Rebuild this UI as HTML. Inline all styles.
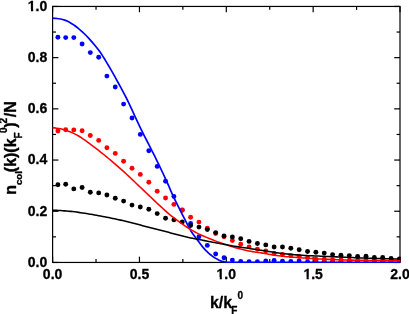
<!DOCTYPE html>
<html><head><meta charset="utf-8"><title>plot</title>
<style>
html,body{margin:0;padding:0;background:#fff;}
body{width:409px;height:314px;overflow:hidden;}
svg{display:block;}
text{font-family:"Liberation Sans",sans-serif;font-weight:bold;fill:#000;}
</style></head>
<body>
<svg width="409" height="314" viewBox="0 0 409 314">
<rect x="0" y="0" width="409" height="314" fill="#fff"/>
<defs><filter id="gs" x="0" y="0" width="409" height="314" filterUnits="userSpaceOnUse"><feColorMatrix type="saturate" values="0"/></filter><clipPath id="c"><rect x="52.0" y="5.8500000000000005" width="348.59999999999997" height="257.2"/></clipPath></defs>
<g stroke="#000" stroke-width="1.2" fill="none">
<rect x="52.6" y="6.45" width="347.4" height="256.0"/>
</g>
<g stroke="#000" stroke-width="1.2" fill="none">
<line x1="52.60" y1="262.45" x2="52.60" y2="256.65"/>
<line x1="52.60" y1="6.45" x2="52.60" y2="12.25"/>
<line x1="96.03" y1="262.45" x2="96.03" y2="259.05"/>
<line x1="96.03" y1="6.45" x2="96.03" y2="9.85"/>
<line x1="139.45" y1="262.45" x2="139.45" y2="256.65"/>
<line x1="139.45" y1="6.45" x2="139.45" y2="12.25"/>
<line x1="182.87" y1="262.45" x2="182.87" y2="259.05"/>
<line x1="182.87" y1="6.45" x2="182.87" y2="9.85"/>
<line x1="226.30" y1="262.45" x2="226.30" y2="256.65"/>
<line x1="226.30" y1="6.45" x2="226.30" y2="12.25"/>
<line x1="269.73" y1="262.45" x2="269.73" y2="259.05"/>
<line x1="269.73" y1="6.45" x2="269.73" y2="9.85"/>
<line x1="313.15" y1="262.45" x2="313.15" y2="256.65"/>
<line x1="313.15" y1="6.45" x2="313.15" y2="12.25"/>
<line x1="356.57" y1="262.45" x2="356.57" y2="259.05"/>
<line x1="356.57" y1="6.45" x2="356.57" y2="9.85"/>
<line x1="400.00" y1="262.45" x2="400.00" y2="256.65"/>
<line x1="400.00" y1="6.45" x2="400.00" y2="12.25"/>
<line x1="52.6" y1="262.45" x2="58.4" y2="262.45"/>
<line x1="400.0" y1="262.45" x2="394.2" y2="262.45"/>
<line x1="52.6" y1="236.85" x2="56.0" y2="236.85"/>
<line x1="400.0" y1="236.85" x2="396.6" y2="236.85"/>
<line x1="52.6" y1="211.25" x2="58.4" y2="211.25"/>
<line x1="400.0" y1="211.25" x2="394.2" y2="211.25"/>
<line x1="52.6" y1="185.65" x2="56.0" y2="185.65"/>
<line x1="400.0" y1="185.65" x2="396.6" y2="185.65"/>
<line x1="52.6" y1="160.05" x2="58.4" y2="160.05"/>
<line x1="400.0" y1="160.05" x2="394.2" y2="160.05"/>
<line x1="52.6" y1="134.45" x2="56.0" y2="134.45"/>
<line x1="400.0" y1="134.45" x2="396.6" y2="134.45"/>
<line x1="52.6" y1="108.85" x2="58.4" y2="108.85"/>
<line x1="400.0" y1="108.85" x2="394.2" y2="108.85"/>
<line x1="52.6" y1="83.25" x2="56.0" y2="83.25"/>
<line x1="400.0" y1="83.25" x2="396.6" y2="83.25"/>
<line x1="52.6" y1="57.65" x2="58.4" y2="57.65"/>
<line x1="400.0" y1="57.65" x2="394.2" y2="57.65"/>
<line x1="52.6" y1="32.05" x2="56.0" y2="32.05"/>
<line x1="400.0" y1="32.05" x2="396.6" y2="32.05"/>
<line x1="52.6" y1="6.45" x2="58.4" y2="6.45"/>
<line x1="400.0" y1="6.45" x2="394.2" y2="6.45"/>
</g>
<g clip-path="url(#c)">
<circle cx="57.90" cy="37.3" r="2.45" fill="#0000ff"/>
<circle cx="65.70" cy="37.6" r="2.45" fill="#0000ff"/>
<circle cx="73.80" cy="37.6" r="2.45" fill="#0000ff"/>
<circle cx="82.10" cy="44.0" r="2.45" fill="#0000ff"/>
<circle cx="90.30" cy="52.6" r="2.45" fill="#0000ff"/>
<circle cx="98.70" cy="57.3" r="2.45" fill="#0000ff"/>
<circle cx="106.90" cy="76.1" r="2.45" fill="#0000ff"/>
<circle cx="115.25" cy="87.0" r="2.45" fill="#0000ff"/>
<circle cx="123.60" cy="104.1" r="2.45" fill="#0000ff"/>
<circle cx="132.00" cy="118.0" r="2.45" fill="#0000ff"/>
<circle cx="140.30" cy="134.4" r="2.45" fill="#0000ff"/>
<circle cx="148.80" cy="150.8" r="2.45" fill="#0000ff"/>
<circle cx="157.20" cy="166.4" r="2.45" fill="#0000ff"/>
<circle cx="165.55" cy="181.2" r="2.45" fill="#0000ff"/>
<circle cx="173.90" cy="196.4" r="2.45" fill="#0000ff"/>
<circle cx="182.26" cy="210.0" r="2.45" fill="#0000ff"/>
<circle cx="190.61" cy="223.5" r="2.45" fill="#0000ff"/>
<circle cx="198.96" cy="236.7" r="2.45" fill="#0000ff"/>
<circle cx="207.31" cy="245.4" r="2.45" fill="#0000ff"/>
<circle cx="215.66" cy="254.0" r="2.45" fill="#0000ff"/>
<circle cx="224.02" cy="257.7" r="2.45" fill="#0000ff"/>
<circle cx="232.37" cy="260.1" r="2.45" fill="#0000ff"/>
<circle cx="240.72" cy="261.4" r="2.45" fill="#0000ff"/>
<circle cx="249.07" cy="261.6" r="2.45" fill="#0000ff"/>
<circle cx="257.42" cy="261.7" r="2.45" fill="#0000ff"/>
<circle cx="265.78" cy="261.0" r="2.45" fill="#0000ff"/>
<circle cx="274.13" cy="260.4" r="2.45" fill="#0000ff"/>
<circle cx="282.48" cy="261.1" r="2.45" fill="#0000ff"/>
<circle cx="290.83" cy="261.5" r="2.45" fill="#0000ff"/>
<circle cx="299.18" cy="260.9" r="2.45" fill="#0000ff"/>
<circle cx="307.54" cy="261.7" r="2.45" fill="#0000ff"/>
<circle cx="315.89" cy="260.7" r="2.45" fill="#0000ff"/>
<circle cx="324.24" cy="261.2" r="2.45" fill="#0000ff"/>
<circle cx="332.59" cy="261.7" r="2.45" fill="#0000ff"/>
<circle cx="340.94" cy="261.7" r="2.45" fill="#0000ff"/>
<circle cx="349.30" cy="261.7" r="2.45" fill="#0000ff"/>
<circle cx="357.65" cy="261.7" r="2.45" fill="#0000ff"/>
<circle cx="366.00" cy="261.7" r="2.45" fill="#0000ff"/>
<circle cx="374.35" cy="261.7" r="2.45" fill="#0000ff"/>
<circle cx="382.70" cy="261.7" r="2.45" fill="#0000ff"/>
<circle cx="391.06" cy="261.7" r="2.45" fill="#0000ff"/>
<circle cx="399.41" cy="261.7" r="2.45" fill="#0000ff"/>
<circle cx="57.90" cy="131.0" r="2.45" fill="#ff0000"/>
<circle cx="65.70" cy="129.7" r="2.45" fill="#ff0000"/>
<circle cx="73.80" cy="129.9" r="2.45" fill="#ff0000"/>
<circle cx="82.10" cy="130.7" r="2.45" fill="#ff0000"/>
<circle cx="90.30" cy="135.5" r="2.45" fill="#ff0000"/>
<circle cx="98.70" cy="140.4" r="2.45" fill="#ff0000"/>
<circle cx="106.90" cy="147.8" r="2.45" fill="#ff0000"/>
<circle cx="115.25" cy="153.4" r="2.45" fill="#ff0000"/>
<circle cx="123.60" cy="161.2" r="2.45" fill="#ff0000"/>
<circle cx="132.00" cy="168.2" r="2.45" fill="#ff0000"/>
<circle cx="140.30" cy="174.4" r="2.45" fill="#ff0000"/>
<circle cx="148.80" cy="182.2" r="2.45" fill="#ff0000"/>
<circle cx="157.20" cy="191.3" r="2.45" fill="#ff0000"/>
<circle cx="165.55" cy="198.0" r="2.45" fill="#ff0000"/>
<circle cx="173.90" cy="204.4" r="2.45" fill="#ff0000"/>
<circle cx="182.26" cy="210.3" r="2.45" fill="#ff0000"/>
<circle cx="190.61" cy="217.2" r="2.45" fill="#ff0000"/>
<circle cx="198.96" cy="222.1" r="2.45" fill="#ff0000"/>
<circle cx="207.31" cy="228.2" r="2.45" fill="#ff0000"/>
<circle cx="215.66" cy="233.5" r="2.45" fill="#ff0000"/>
<circle cx="224.02" cy="236.7" r="2.45" fill="#ff0000"/>
<circle cx="232.37" cy="240.5" r="2.45" fill="#ff0000"/>
<circle cx="240.72" cy="244.3" r="2.45" fill="#ff0000"/>
<circle cx="249.07" cy="246.9" r="2.45" fill="#ff0000"/>
<circle cx="257.42" cy="249.2" r="2.45" fill="#ff0000"/>
<circle cx="265.78" cy="251.0" r="2.45" fill="#ff0000"/>
<circle cx="274.13" cy="253.4" r="2.45" fill="#ff0000"/>
<circle cx="282.48" cy="254.5" r="2.45" fill="#ff0000"/>
<circle cx="290.83" cy="255.8" r="2.45" fill="#ff0000"/>
<circle cx="299.18" cy="256.3" r="2.45" fill="#ff0000"/>
<circle cx="307.54" cy="257.8" r="2.45" fill="#ff0000"/>
<circle cx="315.89" cy="259.2" r="2.45" fill="#ff0000"/>
<circle cx="324.24" cy="259.2" r="2.45" fill="#ff0000"/>
<circle cx="332.59" cy="259.8" r="2.45" fill="#ff0000"/>
<circle cx="340.94" cy="259.9" r="2.45" fill="#ff0000"/>
<circle cx="349.30" cy="260.2" r="2.45" fill="#ff0000"/>
<circle cx="357.65" cy="260.2" r="2.45" fill="#ff0000"/>
<circle cx="366.00" cy="260.3" r="2.45" fill="#ff0000"/>
<circle cx="374.35" cy="260.3" r="2.45" fill="#ff0000"/>
<circle cx="382.70" cy="260.4" r="2.45" fill="#ff0000"/>
<circle cx="391.06" cy="260.4" r="2.45" fill="#ff0000"/>
<circle cx="399.41" cy="260.4" r="2.45" fill="#ff0000"/>
<circle cx="57.90" cy="184.8" r="2.45" fill="#000000"/>
<circle cx="65.70" cy="184.2" r="2.45" fill="#000000"/>
<circle cx="73.80" cy="188.9" r="2.45" fill="#000000"/>
<circle cx="82.10" cy="187.5" r="2.45" fill="#000000"/>
<circle cx="90.30" cy="192.2" r="2.45" fill="#000000"/>
<circle cx="98.70" cy="192.9" r="2.45" fill="#000000"/>
<circle cx="106.90" cy="195.0" r="2.45" fill="#000000"/>
<circle cx="115.25" cy="198.2" r="2.45" fill="#000000"/>
<circle cx="123.60" cy="201.1" r="2.45" fill="#000000"/>
<circle cx="132.00" cy="205.1" r="2.45" fill="#000000"/>
<circle cx="140.30" cy="207.0" r="2.45" fill="#000000"/>
<circle cx="148.80" cy="209.3" r="2.45" fill="#000000"/>
<circle cx="157.20" cy="213.6" r="2.45" fill="#000000"/>
<circle cx="165.55" cy="218.3" r="2.45" fill="#000000"/>
<circle cx="173.90" cy="219.9" r="2.45" fill="#000000"/>
<circle cx="182.26" cy="221.9" r="2.45" fill="#000000"/>
<circle cx="190.61" cy="225.5" r="2.45" fill="#000000"/>
<circle cx="198.96" cy="227.1" r="2.45" fill="#000000"/>
<circle cx="207.31" cy="229.6" r="2.45" fill="#000000"/>
<circle cx="215.66" cy="232.6" r="2.45" fill="#000000"/>
<circle cx="224.02" cy="235.9" r="2.45" fill="#000000"/>
<circle cx="232.37" cy="237.0" r="2.45" fill="#000000"/>
<circle cx="240.72" cy="238.7" r="2.45" fill="#000000"/>
<circle cx="249.07" cy="241.4" r="2.45" fill="#000000"/>
<circle cx="257.42" cy="243.5" r="2.45" fill="#000000"/>
<circle cx="265.78" cy="244.9" r="2.45" fill="#000000"/>
<circle cx="274.13" cy="247.0" r="2.45" fill="#000000"/>
<circle cx="282.48" cy="247.0" r="2.45" fill="#000000"/>
<circle cx="290.83" cy="248.2" r="2.45" fill="#000000"/>
<circle cx="299.18" cy="249.8" r="2.45" fill="#000000"/>
<circle cx="307.54" cy="251.5" r="2.45" fill="#000000"/>
<circle cx="315.89" cy="252.2" r="2.45" fill="#000000"/>
<circle cx="324.24" cy="253.1" r="2.45" fill="#000000"/>
<circle cx="332.59" cy="254.6" r="2.45" fill="#000000"/>
<circle cx="340.94" cy="255.3" r="2.45" fill="#000000"/>
<circle cx="349.30" cy="255.6" r="2.45" fill="#000000"/>
<circle cx="357.65" cy="256.5" r="2.45" fill="#000000"/>
<circle cx="366.00" cy="256.3" r="2.45" fill="#000000"/>
<circle cx="374.35" cy="257.4" r="2.45" fill="#000000"/>
<circle cx="382.70" cy="257.4" r="2.45" fill="#000000"/>
<circle cx="391.06" cy="258.4" r="2.45" fill="#000000"/>
<circle cx="399.41" cy="259.0" r="2.45" fill="#000000"/>
<path d="M52.6,18.20 L54.6,18.28 L56.6,18.47 L58.6,18.73 L60.6,19.03 L62.6,19.48 L64.6,20.07 L66.6,20.84 L68.6,21.83 L70.6,22.96 L72.6,24.17 L74.6,25.52 L76.6,27.02 L78.6,28.63 L80.6,30.30 L82.6,32.10 L84.6,34.00 L86.6,36.00 L88.6,38.10 L90.6,40.32 L92.6,42.64 L94.6,45.02 L96.6,47.47 L98.6,50.05 L100.6,52.84 L102.6,55.85 L104.6,59.04 L106.6,62.34 L108.6,65.71 L110.6,69.11 L112.6,72.61 L114.6,76.20 L116.6,79.85 L118.6,83.53 L120.6,87.21 L122.6,90.90 L124.6,94.65 L126.6,98.51 L128.6,102.55 L130.6,106.78 L132.6,111.14 L134.6,115.53 L136.6,119.90 L138.6,124.16 L140.6,128.27 L142.6,132.31 L144.6,136.29 L146.6,140.25 L148.6,144.21 L150.6,148.14 L152.6,152.05 L154.6,155.99 L156.6,160.03 L158.6,164.13 L160.6,168.28 L162.6,172.49 L164.6,176.77 L166.6,181.17 L168.6,185.71 L170.6,190.29 L172.6,194.80 L174.6,199.12 L176.6,203.22 L178.6,207.20 L180.6,211.14 L182.6,215.02 L184.6,218.89 L186.6,222.89 L188.6,226.85 L190.6,230.44 L192.6,233.49 L194.6,236.24 L196.6,238.89 L198.6,241.62 L200.6,244.34 L202.6,246.88 L204.6,249.14 L206.6,251.22 L208.6,253.11 L210.6,254.79 L212.6,256.33 L214.6,257.70 L216.6,258.87 L218.6,259.96 L220.6,260.86 L222.6,261.45 L224.6,261.89 L226.6,262.20 L228.6,262.32 L230.6,262.36 L232.6,262.39 L234.6,262.42 L236.6,262.44 L238.6,262.45 L240.6,262.45 L242.6,262.45 L244.6,262.45 L246.6,262.45 L248.6,262.45 L250.6,262.45 L252.6,262.45 L254.6,262.45 L256.6,262.45 L258.6,262.45 L260.6,262.45 L262.6,262.45 L264.6,262.45 L266.6,262.45 L268.6,262.45 L270.6,262.45 L272.6,262.45 L274.6,262.45 L276.6,262.45 L278.6,262.45 L280.6,262.45 L282.6,262.45 L284.6,262.45 L286.6,262.45 L288.6,262.45 L290.6,262.45 L292.6,262.45 L294.6,262.45 L296.6,262.45 L298.6,262.45 L300.6,262.45 L302.6,262.45 L304.6,262.45 L306.6,262.45 L308.6,262.45 L310.6,262.45 L312.6,262.45 L314.6,262.45 L316.6,262.45 L318.6,262.45 L320.6,262.45 L322.6,262.45 L324.6,262.45 L326.6,262.45 L328.6,262.45 L330.6,262.45 L332.6,262.45 L334.6,262.45 L336.6,262.45 L338.6,262.45 L340.6,262.45 L342.6,262.45 L344.6,262.45 L346.6,262.45 L348.6,262.45 L350.6,262.45 L352.6,262.45 L354.6,262.45 L356.6,262.45 L358.6,262.45 L360.6,262.45 L362.6,262.45 L364.6,262.45 L366.6,262.45 L368.6,262.45 L370.6,262.45 L372.6,262.45 L374.6,262.45 L376.6,262.45 L378.6,262.45 L380.6,262.45 L382.6,262.45 L384.6,262.45 L386.6,262.45 L388.6,262.45 L390.6,262.45 L392.6,262.45 L394.6,262.45 L396.6,262.45 L398.6,262.45 L400.0,262.45" fill="none" stroke="#0000ff" stroke-width="1.7" stroke-linejoin="round"/>
<path d="M52.6,127.70 L54.6,127.89 L56.6,128.16 L58.6,128.48 L60.6,128.86 L62.6,129.33 L64.6,129.89 L66.6,130.53 L68.6,131.23 L70.6,131.99 L72.6,132.86 L74.6,133.85 L76.6,134.91 L78.6,136.04 L80.6,137.22 L82.6,138.53 L84.6,139.92 L86.6,141.37 L88.6,142.84 L90.6,144.30 L92.6,145.81 L94.6,147.34 L96.6,148.90 L98.6,150.46 L100.6,152.04 L102.6,153.63 L104.6,155.24 L106.6,156.87 L108.6,158.52 L110.6,160.19 L112.6,161.89 L114.6,163.60 L116.6,165.34 L118.6,167.09 L120.6,168.85 L122.6,170.63 L124.6,172.42 L126.6,174.24 L128.6,176.08 L130.6,177.95 L132.6,179.85 L134.6,181.77 L136.6,183.69 L138.6,185.60 L140.6,187.51 L142.6,189.42 L144.6,191.32 L146.6,193.23 L148.6,195.13 L150.6,197.02 L152.6,198.93 L154.6,200.83 L156.6,202.72 L158.6,204.59 L160.6,206.44 L162.6,208.29 L164.6,210.13 L166.6,211.93 L168.6,213.67 L170.6,215.31 L172.6,216.88 L174.6,218.40 L176.6,219.87 L178.6,221.32 L180.6,222.77 L182.6,224.21 L184.6,225.63 L186.6,226.99 L188.6,228.29 L190.6,229.51 L192.6,230.67 L194.6,231.78 L196.6,232.84 L198.6,233.85 L200.6,234.80 L202.6,235.68 L204.6,236.53 L206.6,237.37 L208.6,238.20 L210.6,239.02 L212.6,239.82 L214.6,240.60 L216.6,241.37 L218.6,242.11 L220.6,242.81 L222.6,243.48 L224.6,244.12 L226.6,244.77 L228.6,245.46 L230.6,246.17 L232.6,246.87 L234.6,247.49 L236.6,248.06 L238.6,248.60 L240.6,249.12 L242.6,249.62 L244.6,250.08 L246.6,250.52 L248.6,250.92 L250.6,251.29 L252.6,251.63 L254.6,251.93 L256.6,252.23 L258.6,252.52 L260.6,252.81 L262.6,253.12 L264.6,253.46 L266.6,253.83 L268.6,254.22 L270.6,254.61 L272.6,254.97 L274.6,255.29 L276.6,255.55 L278.6,255.80 L280.6,256.04 L282.6,256.25 L284.6,256.46 L286.6,256.65 L288.6,256.84 L290.6,257.01 L292.6,257.18 L294.6,257.34 L296.6,257.49 L298.6,257.63 L300.6,257.77 L302.6,257.91 L304.6,258.04 L306.6,258.17 L308.6,258.31 L310.6,258.44 L312.6,258.56 L314.6,258.68 L316.6,258.79 L318.6,258.90 L320.6,258.99 L322.6,259.09 L324.6,259.18 L326.6,259.27 L328.6,259.36 L330.6,259.44 L332.6,259.52 L334.6,259.60 L336.6,259.67 L338.6,259.74 L340.6,259.80 L342.6,259.86 L344.6,259.92 L346.6,259.97 L348.6,260.02 L350.6,260.07 L352.6,260.11 L354.6,260.16 L356.6,260.20 L358.6,260.24 L360.6,260.28 L362.6,260.31 L364.6,260.35 L366.6,260.38 L368.6,260.42 L370.6,260.45 L372.6,260.48 L374.6,260.51 L376.6,260.54 L378.6,260.57 L380.6,260.59 L382.6,260.62 L384.6,260.64 L386.6,260.67 L388.6,260.69 L390.6,260.71 L392.6,260.73 L394.6,260.75 L396.6,260.77 L398.6,260.79 L400.0,260.80" fill="none" stroke="#ff0000" stroke-width="1.55" stroke-linejoin="round"/>
<path d="M52.6,210.20 L54.6,210.27 L56.6,210.36 L58.6,210.47 L60.6,210.60 L62.6,210.73 L64.6,210.88 L66.6,211.04 L68.6,211.21 L70.6,211.39 L72.6,211.60 L74.6,211.83 L76.6,212.09 L78.6,212.37 L80.6,212.66 L82.6,212.97 L84.6,213.28 L86.6,213.60 L88.6,213.92 L90.6,214.24 L92.6,214.57 L94.6,214.92 L96.6,215.27 L98.6,215.64 L100.6,216.02 L102.6,216.40 L104.6,216.79 L106.6,217.18 L108.6,217.58 L110.6,217.98 L112.6,218.39 L114.6,218.81 L116.6,219.24 L118.6,219.67 L120.6,220.12 L122.6,220.57 L124.6,221.03 L126.6,221.50 L128.6,221.97 L130.6,222.46 L132.6,222.97 L134.6,223.50 L136.6,224.03 L138.6,224.57 L140.6,225.12 L142.6,225.66 L144.6,226.20 L146.6,226.74 L148.6,227.27 L150.6,227.79 L152.6,228.30 L154.6,228.82 L156.6,229.33 L158.6,229.83 L160.6,230.34 L162.6,230.85 L164.6,231.36 L166.6,231.87 L168.6,232.37 L170.6,232.89 L172.6,233.42 L174.6,233.95 L176.6,234.48 L178.6,235.01 L180.6,235.53 L182.6,236.04 L184.6,236.54 L186.6,237.01 L188.6,237.47 L190.6,237.90 L192.6,238.31 L194.6,238.71 L196.6,239.10 L198.6,239.48 L200.6,239.86 L202.6,240.24 L204.6,240.62 L206.6,241.01 L208.6,241.39 L210.6,241.77 L212.6,242.15 L214.6,242.53 L216.6,242.91 L218.6,243.29 L220.6,243.67 L222.6,244.06 L224.6,244.45 L226.6,244.83 L228.6,245.20 L230.6,245.56 L232.6,245.91 L234.6,246.25 L236.6,246.57 L238.6,246.87 L240.6,247.17 L242.6,247.46 L244.6,247.75 L246.6,248.04 L248.6,248.34 L250.6,248.65 L252.6,248.96 L254.6,249.27 L256.6,249.58 L258.6,249.90 L260.6,250.22 L262.6,250.53 L264.6,250.84 L266.6,251.16 L268.6,251.48 L270.6,251.79 L272.6,252.10 L274.6,252.39 L276.6,252.66 L278.6,252.93 L280.6,253.19 L282.6,253.45 L284.6,253.69 L286.6,253.92 L288.6,254.13 L290.6,254.33 L292.6,254.51 L294.6,254.69 L296.6,254.87 L298.6,255.03 L300.6,255.18 L302.6,255.31 L304.6,255.44 L306.6,255.55 L308.6,255.65 L310.6,255.74 L312.6,255.83 L314.6,255.92 L316.6,256.01 L318.6,256.10 L320.6,256.19 L322.6,256.27 L324.6,256.36 L326.6,256.45 L328.6,256.54 L330.6,256.62 L332.6,256.71 L334.6,256.79 L336.6,256.88 L338.6,256.96 L340.6,257.05 L342.6,257.13 L344.6,257.21 L346.6,257.30 L348.6,257.39 L350.6,257.47 L352.6,257.56 L354.6,257.65 L356.6,257.74 L358.6,257.83 L360.6,257.92 L362.6,258.00 L364.6,258.08 L366.6,258.16 L368.6,258.23 L370.6,258.30 L372.6,258.37 L374.6,258.43 L376.6,258.48 L378.6,258.54 L380.6,258.59 L382.6,258.64 L384.6,258.69 L386.6,258.74 L388.6,258.79 L390.6,258.83 L392.6,258.87 L394.6,258.91 L396.6,258.95 L398.6,258.98 L400.0,259.00" fill="none" stroke="#000000" stroke-width="1.55" stroke-linejoin="round"/>
</g>
<g filter="url(#gs)">
<g font-size="14" stroke="#000" stroke-width="0.3" stroke-linejoin="round">
<text x="52.60" y="279.0" text-anchor="middle">0.0</text>
<text x="139.45" y="279.0" text-anchor="middle">0.5</text>
<text x="226.30" y="279.0" text-anchor="middle">1.0</text>
<text x="313.15" y="279.0" text-anchor="middle">1.5</text>
<text x="400.00" y="279.0" text-anchor="middle">2.0</text>
<text x="47.3" y="266.75" text-anchor="end">0.0</text>
<text x="47.3" y="215.55" text-anchor="end">0.2</text>
<text x="47.3" y="164.35" text-anchor="end">0.4</text>
<text x="47.3" y="113.15" text-anchor="end">0.6</text>
<text x="47.3" y="61.95" text-anchor="end">0.8</text>
<text x="47.3" y="11.05" text-anchor="end">1.0</text>
</g>
<rect x="28.12" y="9.03" width="2.87" height="3.1" fill="#fff"/>
<rect x="33.16" y="9.03" width="2.52" height="3.1" fill="#fff"/>
<rect x="216.85" y="276.98" width="2.87" height="3.1" fill="#fff"/>
<rect x="221.89" y="276.98" width="2.52" height="3.1" fill="#fff"/>
<rect x="303.70" y="276.98" width="2.87" height="3.1" fill="#fff"/>
<rect x="308.74" y="276.98" width="2.52" height="3.1" fill="#fff"/>
<g font-size="16" stroke="#000" stroke-width="0.3" stroke-linejoin="round">
<text x="209.9" y="307.7">k/k</text>
<text x="231.35" y="314.1" font-size="10">F</text>
<text x="237.45" y="299.25" font-size="10">0</text>
</g>
<g transform="rotate(-90)" font-size="16" stroke="#000" stroke-width="0.35" stroke-linejoin="round">
<text x="-194.7" y="16.15">n</text>
<text x="-185.0" y="22.2" font-size="9.6">col</text>
<text x="-172.2" y="16.15">(k)(k</text>
<text x="-138.4" y="22.2" font-size="10">F</text>
<text x="-132.9" y="7.2" font-size="10">0</text>
<text x="-127.8" y="16.15">)</text>
<text x="-123.4" y="7.2" font-size="10">2</text>
<text x="-117.2" y="16.15">/N</text>
</g>
</g>
</svg>
</body></html>
